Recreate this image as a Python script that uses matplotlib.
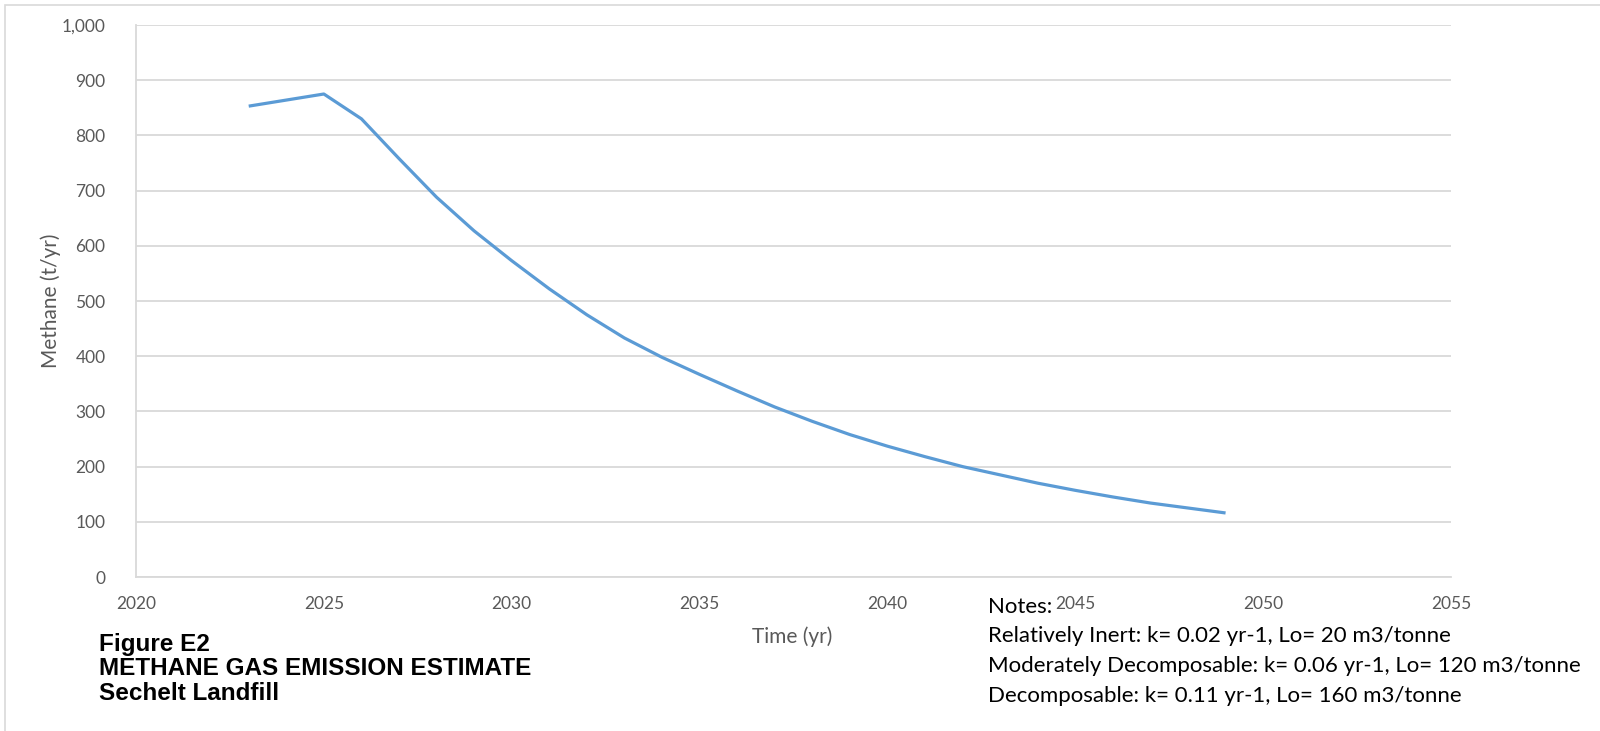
"""Methane gas emission estimate, Sechelt Landfill (Figure E2)."""
import matplotlib.pyplot as plt
import matplotlib.ticker as mticker
from matplotlib.patches import Rectangle

# annual methane generation (t/yr)
years = [2023, 2024, 2025, 2026, 2027, 2028, 2029, 2030, 2031, 2032, 2033, 2034, 2035, 2036,
         2037, 2038, 2039, 2040, 2041, 2042, 2043, 2044, 2045, 2046, 2047, 2048, 2049]
methane = [853, 864, 875, 830, 758, 688, 627, 573, 522, 475, 433, 398, 367, 337,
           308, 282, 258, 237, 218, 200, 185, 170, 157, 145, 134, 125, 116]

x_ticks = [2020, 2025, 2030, 2035, 2040, 2045, 2050, 2055]
y_ticks = list(range(0, 1001, 100))

caption = ["Figure E2", "METHANE GAS EMISSION ESTIMATE", "Sechelt Landfill"]
notes = ["Notes:",
         "Relatively Inert: k= 0.02 yr-1, Lo= 20 m3/tonne",
         "Moderately Decomposable: k= 0.06 yr-1, Lo= 120 m3/tonne",
         "Decomposable: k= 0.11 yr-1, Lo= 160 m3/tonne"]

W, H = 1600, 731
GRID = "#d9d9d9"
TXT = "#595959"

plt.rcParams["font.family"] = ["Lato", "DejaVu Sans"]

fig = plt.figure(figsize=(W / 100, H / 100), dpi=100)
fig.patches.append(Rectangle((5 / W, -0.1), 1.2, 1 - 5 / H + 0.1, transform=fig.transFigure,
                             fill=False, edgecolor=GRID, linewidth=1.2))

ax = fig.add_axes([136 / W, 1 - 577 / H, (1451 - 136) / W, (577 - 25) / H])
ax.plot(years, methane, color="#5b9bd5", linewidth=2.3, solid_capstyle="butt", zorder=3)

ax.set_xlim(2020, 2055)
ax.set_ylim(0, 1000)
ax.set_xticks(x_ticks)
ax.set_yticks(y_ticks)
ax.yaxis.set_major_formatter(mticker.StrMethodFormatter("{x:,.0f}"))
ax.grid(True, axis="y", color=GRID, linewidth=1.3)
ax.set_axisbelow(True)
for side in ("top", "right"):
    ax.spines[side].set_visible(False)
for side in ("left", "bottom"):
    ax.spines[side].set_color(GRID)
    ax.spines[side].set_linewidth(1.3)
ax.tick_params(length=0, labelsize=12.5, labelcolor=TXT)
ax.tick_params(axis="x", pad=14)
ax.tick_params(axis="y", pad=22)

fig.text(792 / W, 1 - 637 / H, "Time (yr)", ha="center", va="center", fontsize=15, color=TXT)
fig.text(51 / W, 1 - 301 / H, "Methane (t/yr)", ha="center", va="center", rotation=90,
         fontsize=15, color=TXT)

for i, line in enumerate(caption):
    fig.text(99 / W, 1 - (644 + 24.5 * i) / H, line, ha="left", va="center", fontsize=17.5,
             fontweight="bold", color="black",
             family=["Liberation Sans Narrow", "Liberation Sans", "DejaVu Sans"])

for i, line in enumerate(notes):
    fig.text(988 / W, 1 - (607 + 29.5 * i) / H, line, ha="left", va="center", fontsize=16,
             color="black")

fig.savefig("out.png", dpi=100)
